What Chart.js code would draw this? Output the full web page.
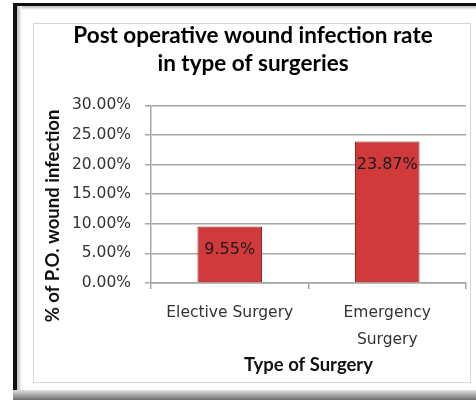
<!DOCTYPE html>
<html>
<head>
<meta charset="utf-8">
<script src="https://cdn.jsdelivr.net/npm/chart.js@4"></script>
<style>
  html, body { margin: 0; padding: 0; background: #fff; overflow: hidden; }
  #wrap { position: relative; width: 476px; height: 400px; overflow: hidden; background: #fff; }
  .deco { position: absolute; }
  #topLine { left: 13px; top: 3px; width: 463px; height: 3px; background: #111; }
  #leftLine { left: 13px; top: 3px; width: 4px; height: 387px; background: #111; }
  #topBevel { left: 17px; top: 6px; width: 459px; height: 4px; background: linear-gradient(#b8b8b8, #fff); }
  #leftBevel { left: 17px; top: 6px; width: 5px; height: 384px; background: linear-gradient(90deg, #b8b8b8, #fff); }
  #shadow { left: 13px; top: 390px; width: 463px; height: 10px; background: linear-gradient(#e0e0e0, #6e6e6e); }
  #inner { left: 33px; top: 23px; width: 436px; height: 358px; border: 1px solid #d4d4d4; }
  canvas { position: absolute; left: 0; top: 0; }
</style>
</head>
<body>
<div id="wrap">
  <div class="deco" id="topLine"></div>
  <div class="deco" id="leftLine"></div>
  <div class="deco" id="topBevel"></div>
  <div class="deco" id="leftBevel"></div>
  <div class="deco" id="shadow"></div>
  <div class="deco" id="inner"></div>
  <canvas id="c" width="476" height="400"></canvas>
</div>
<script>
const categories = [["Elective Surgery"], ["Emergency", "Surgery"]];
const infectionRates = [9.55, 23.87];
const yTickMax = 30;
const yTickStep = 5;
const titleLines = ["Post operative wound infection rate", "in type of surgeries"];
const xAxisTitle = "Type of Surgery";
const yAxisTitle = "% of P.O. wound infection";

const gridColor = "#a6a6a6";

function barGradient(ctx) {
  const chart = ctx.chart;
  const el = ctx.element;
  if (!el || !chart.chartArea || el.x === undefined) return "#d03a3a";
  const w = el.width || 64;
  const g = chart.ctx.createLinearGradient(el.x - w / 2, 0, el.x + w / 2, 0);
  g.addColorStop(0, "#a81e1e");
  g.addColorStop(0.12, "#d43c3c");
  g.addColorStop(0.5, "#dc4646");
  g.addColorStop(0.88, "#d23b3b");
  g.addColorStop(1, "#9c1c1c");
  return g;
}

const valueLabels = {
  id: "valueLabels",
  afterDatasetsDraw(chart) {
    const ctx = chart.ctx;
    const meta = chart.getDatasetMeta(0);
    ctx.save();
    ctx.font = "16px 'DejaVu Sans'";
    ctx.fillStyle = "#1a1a1a";
    ctx.textAlign = "center";
    ctx.textBaseline = "middle";
    meta.data.forEach((bar, i) => {
      ctx.fillText(infectionRates[i].toFixed(2) + "%", bar.x, bar.y + 23);
    });
    ctx.restore();
  }
};

const yTitle = {
  id: "yTitle",
  afterDraw(chart) {
    const ctx = chart.ctx;
    ctx.save();
    ctx.translate(53, 216);
    ctx.rotate(-Math.PI / 2);
    ctx.font = "bold 18.5px Lato";
    ctx.fillStyle = "#111";
    ctx.textAlign = "center";
    ctx.textBaseline = "middle";
    ctx.fillText(yAxisTitle, 0, 0);
    ctx.restore();
  }
};

new Chart(document.getElementById("c"), {
  type: "bar",
  data: {
    labels: categories,
    datasets: [{
      data: infectionRates,
      backgroundColor: barGradient,
      borderColor: "#8e1a1a",
      borderWidth: 1,
      categoryPercentage: 0.82,
      barPercentage: 0.5
    }]
  },
  plugins: [valueLabels, yTitle],
  options: {
    responsive: false,
    animation: false,
    events: [],
    layout: { padding: { left: 40, right: 10, top: 9, bottom: 17 } },
    plugins: {
      legend: { display: false },
      tooltip: { enabled: false },
      title: {
        display: true,
        text: titleLines,
        color: "#000",
        font: { family: "Lato", weight: "bold", size: 22.5, lineHeight: 1.25 },
        padding: { top: 13, bottom: 27 }
      }
    },
    scales: {
      x: {
        afterFit: s => { s.height = 100; },
        grid: { drawOnChartArea: false, drawTicks: true, tickLength: 6, color: gridColor, lineWidth: 1.5 },
        border: { color: gridColor, width: 1.5 },
        ticks: { color: "#333", font: { family: "DejaVu Sans", size: 15.5, lineHeight: 1.75 }, padding: 10, maxRotation: 0 },
        title: { display: true, text: xAxisTitle, color: "#111",
                 font: { family: "Lato", weight: "bold", size: 18.5 }, padding: { top: 0, bottom: 7 } }
      },
      y: {
        min: 0,
        max: yTickMax,
        afterFit: s => { s.width = 111; },
        grid: { color: gridColor, lineWidth: 1.5, tickLength: 6 },
        border: { color: gridColor, width: 1.5 },
        ticks: {
          stepSize: yTickStep,
          color: "#333",
          padding: 14,
          font: { family: "DejaVu Sans", size: 15.5 },
          callback: v => v.toFixed(2) + "%"
        }
      }
    }
  }
});
</script>
</body>
</html>
